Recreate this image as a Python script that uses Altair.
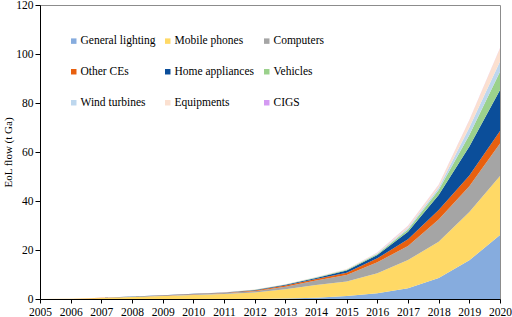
import altair as alt
import pandas as pd

years = list(range(2005, 2021))
series = ["General lighting", "Mobile phones", "Computers", "Other CEs",
          "Home appliances", "Vehicles", "Wind turbines", "Equipments", "CIGS"]
colors = ["#86ACDE", "#FFD966", "#A5A5A5", "#E8600F", "#0B4E9A",
          "#9BD18C", "#BDD7EE", "#FBE0D0", "#D49AF2"]

# cumulative tops
top_lighting = [0, 0, 0, 0, 0, 0, 0, 0.05, 0.2, 0.5, 1.2, 2.3, 4.4, 8.6, 15.8, 26.1]
top_mobile = [0, 0.1, 0.4, 0.8, 1.2, 1.6, 2.0, 2.7, 4.0, 5.7, 7.1, 10.5, 15.9, 23.4, 35.5, 50.2]
top_computers = [0, 0.13, 0.45, 0.9, 1.35, 1.9, 2.4, 3.2, 5.0, 7.6, 9.8, 15.0, 21.6, 32.5, 46.0, 63.5]
top_otherce = [0, 0.14, 0.48, 0.95, 1.45, 2.0, 2.6, 3.5, 5.5, 8.2, 10.7, 16.6, 24.4, 36.3, 50.4, 68.6]
top_home = [0, 0.15, 0.5, 1.0, 1.5, 2.1, 2.7, 3.7, 5.8, 8.6, 11.6, 18.0, 27.5, 42.4, 62.2, 85.3]
top_vehicles = [0, 0.15, 0.5, 1.0, 1.5, 2.1, 2.7, 3.75, 5.9, 8.75, 11.9, 18.4, 28.4, 44.5, 66.9, 92.8]
top_wind = [0, 0.15, 0.5, 1.0, 1.5, 2.1, 2.7, 3.8, 5.95, 8.85, 12.0, 18.6, 29.0, 45.4, 70.0, 96.9]
top_equip = [0, 0.16, 0.52, 1.02, 1.55, 2.15, 2.8, 3.9, 6.05, 9.0, 12.2, 18.9, 29.8, 46.5, 73.0, 102.3]
top_cigs = [0, 0.16, 0.52, 1.02, 1.55, 2.15, 2.8, 3.9, 6.05, 9.0, 12.2, 18.95, 29.85, 46.6, 73.1, 102.5]

tops = [top_lighting, top_mobile, top_computers, top_otherce, top_home,
        top_vehicles, top_wind, top_equip, top_cigs]

rows = []
prev = [0] * len(years)
for i, (name, t) in enumerate(zip(series, tops)):
    for j, y in enumerate(years):
        rows.append({"year": y, "series": name, "idx": i, "value": max(t[j] - prev[j], 0)})
    prev = t
df = pd.DataFrame(rows)

FONT = "Liberation Serif"

chart = alt.Chart(df).mark_area(interpolate="linear").encode(
    x=alt.X("year:Q",
            scale=alt.Scale(domain=[2005, 2020], nice=False, zero=False),
            axis=alt.Axis(values=years, format="d", title=None, grid=False,
                          domainColor="black", tickColor="black", tickSize=4,
                          labelFontSize=11.5, labelColor="black", labelPadding=3,
                          labelFont=FONT, labelFlush=False)),
    y=alt.Y("value:Q", stack="zero",
            scale=alt.Scale(domain=[0, 120], nice=False),
            axis=alt.Axis(values=[0, 20, 40, 60, 80, 100, 120], title="EoL flow (t Ga)",
                          grid=False, domainColor="black", tickColor="black", tickSize=5,
                          labelFontSize=11.5, labelColor="black", labelPadding=2,
                          labelFont=FONT, titleFont=FONT, titleFontSize=11,
                          titleFontWeight="normal", titleColor="black", titlePadding=2)),
    color=alt.Color("series:N",
                    scale=alt.Scale(domain=series, range=colors),
                    legend=alt.Legend(title=None, orient="none", legendX=28, legendY=30,
                                      columns=3, direction="horizontal", gridAlign="each",
                                      symbolType="square", symbolSize=30,
                                      symbolStrokeWidth=0, labelFont=FONT,
                                      labelFontSize=11.5, labelColor="black",
                                      labelOffset=1, columnPadding=6, rowPadding=18,
                                      padding=0)),
    order=alt.Order("idx:Q", sort="ascending"),
).properties(
    width=460, height=294,
    autosize=alt.AutoSizeParams(type="none"),
    padding={"left": 40, "top": 5, "right": 12, "bottom": 18},
).configure(
    background="white"
).configure_view(
    stroke="#8c8c8c", strokeWidth=1
)

chart.save("out.html", embed_options={"renderer": "svg", "actions": False})
